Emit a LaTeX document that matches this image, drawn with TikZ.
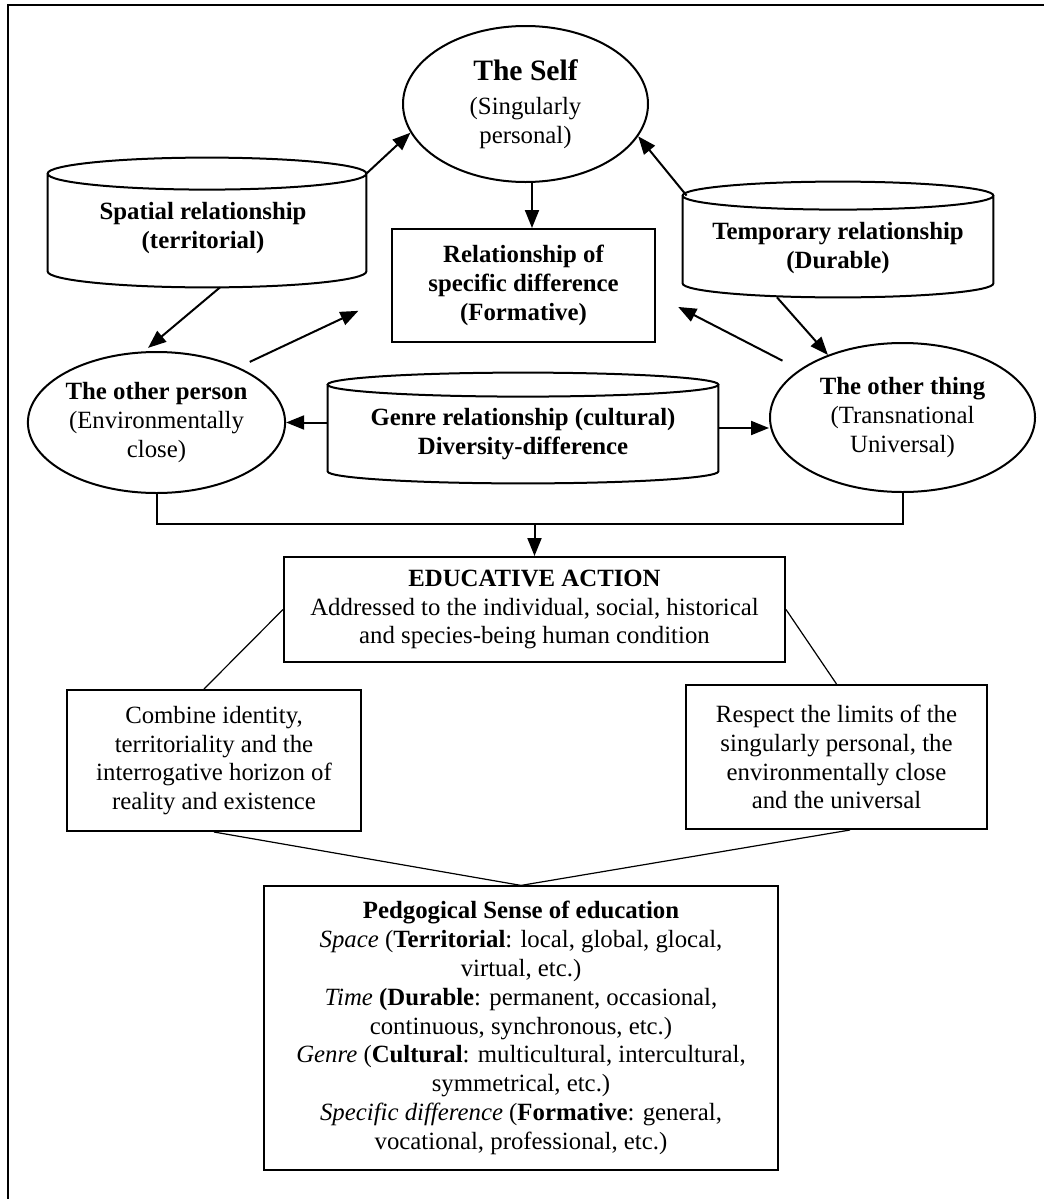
\documentclass[tikz,border=0pt]{standalone}
\usepackage{fontspec}
\setmainfont{Liberation Serif}
\usetikzlibrary{arrows.meta,shapes.geometric,calc}

\newcommand\drawcyl[2]{%
  \draw[cylline] let \p1=(#1.north west), \p2=(#1.south east), \n1={(\x2-\x1)/2} in
    ([yshift=-#2]#1.north) ellipse [x radius=\n1*1pt, y radius=#2]
    ([yshift=-#2]#1.north west) -- ([yshift=#2]#1.south west)
    arc[start angle=180, end angle=360, x radius=\n1*1pt, y radius=#2]
    -- ([yshift=-#2]#1.north east);}

\begin{document}
\begin{tikzpicture}[x=0.5pt,y=-0.5pt,
  every node/.style={font=\fontsize{12.4}{14.4}\selectfont, inner sep=0pt, align=center},
  ell/.style={ellipse, draw, line width=1pt},
  box/.style={rectangle, draw, line width=1pt},
  thinbox/.style={rectangle, draw, line width=0.6pt},
  cylbox/.style={rectangle, draw=none},
  cylline/.style={line width=1pt},
  cyltext/.style={font=\fontsize{12.4}{14.4}\selectfont\bfseries, align=center},
  arr/.style={line width=1pt, -{Triangle[length=9pt,width=7pt]}},
  conn/.style={line width=1pt},
  thinline/.style={line width=0.6pt}]

\useasboundingbox (0,0) rectangle (1044,1199);
\draw[line width=0.8pt] (8,1199) -- (8,5) -- (1044,5);

% top nodes
\node[ell, minimum width=122.5pt, minimum height=78pt] (self) at (525.5,104)
  {{\fontsize{14.8}{16}\selectfont\bfseries The Self}\\[2.6pt](Singularly\\personal)};
\node[box, minimum width=131.5pt, minimum height=56.5pt, font=\fontsize{12.4}{14.4}\selectfont\bfseries] (rel) at (523.5,285.5)
  {Relationship of\\specific difference\\(Formative)};

\node[cylbox, minimum width=159pt, minimum height=64.5pt,
  label={[cyltext,xshift=-2pt,yshift=-2.75pt]center:{Spatial relationship\\(territorial)}}] (spatial) at (207,222.5) {};
\node[cylbox, minimum width=155pt, minimum height=57.5pt,
  label={[cyltext,yshift=-4.25pt]center:{Temporary relationship\\(Durable)}}] (temporary) at (838,239.5) {};
\node[cylbox, minimum width=195pt, minimum height=55pt,
  label={[cyltext,yshift=-3pt]center:{Genre relationship (cultural)\\Diversity-difference}}] (genre) at (523,428) {};

\drawcyl{spatial}{8pt}
\drawcyl{temporary}{7pt}
\drawcyl{genre}{6pt}

\node[ell, minimum width=126.5pt, minimum height=70.5pt] (person) at (156.5,422.5)
  {\textbf{The other person}\\(Environmentally\\close)};
\node[ell, minimum width=132.5pt, minimum height=74.5pt] (thing) at (902.5,417.5)
  {\textbf{The other thing}\\(Transnational\\Universal)};

% lower nodes
\node[box, minimum width=250.5pt, minimum height=52.5pt] (ea) at (534.5,609.5)
  {\textbf{EDUCATIVE ACTION}\\Addressed to the individual, social, historical\\and species-being human condition};
\node[box, minimum width=147pt, minimum height=70.5pt] (lbox) at (214,760.5)
  {Combine identity,\\territoriality and the\\interrogative horizon of\\reality and existence};
\node[box, minimum width=150.5pt, minimum height=72pt] (rbox) at (836.5,757)
  {Respect the limits of the\\singularly personal, the\\environmentally close\\and the universal};
\node[thinbox, minimum width=257pt, minimum height=142pt] (bbox) at (521,1028)
  {\textbf{Pedgogical Sense of education}\\
   \textit{Space} (\textbf{Territorial}: local, global, glocal,\\
   virtual, etc.)\\
   \textit{Time} \textbf{(Durable}: permanent, occasional,\\
   continuous, synchronous, etc.)\\
   \textit{Genre} (\textbf{Cultural}: multicultural, intercultural,\\
   symmetrical, etc.)\\
   \textit{Specific difference} (\textbf{Formative}: general,\\
   vocational, professional, etc.)};

% connectors (top)
\draw[arr] ([yshift=-8pt]spatial.north east) -- (self.194.5);
\draw[arr] ([xshift=2pt,yshift=-7pt]temporary.north west) -- (self.344.6);
\coordinate (sd) at ([xshift=3.25pt]self.south);
\draw[arr] (sd) -- (sd |- rel.north);
\draw[arr, shorten >=2.7pt] ([xshift=6.5pt]spatial.south) -- (person.100);
\draw[arr, shorten <=6.2pt, shorten >=18pt] (person.34) -- ([yshift=-5pt]rel.west);
\draw[arr, shorten <=9.6pt, shorten >=12.5pt] (thing.155) -- ([yshift=-5pt]rel.east);
\draw[arr] ([xshift=-30.5pt]temporary.south) -- (thing.140.6);
\draw[arr] (person.east -| genre.west) -- (person.east);
\draw[arr] (genre.east) -- (genre.east -| thing.west);

% merge to educative action
\path (ea.north) ++(0,-32.5) coordinate (merge);
\draw[conn] (person.south) |- (merge) -| (thing.south);
\draw[arr] (merge) -- (ea.north);

% lower connectors
\draw[thinline] (ea.west) -- ([xshift=-5pt]lbox.north);
\draw[thinline] (ea.east) -- (rbox.north);
\draw[thinline] (lbox.south) -- (bbox.north);
\draw[thinline] ([xshift=6.75pt]rbox.south) -- (bbox.north);
\end{tikzpicture}
\end{document}
